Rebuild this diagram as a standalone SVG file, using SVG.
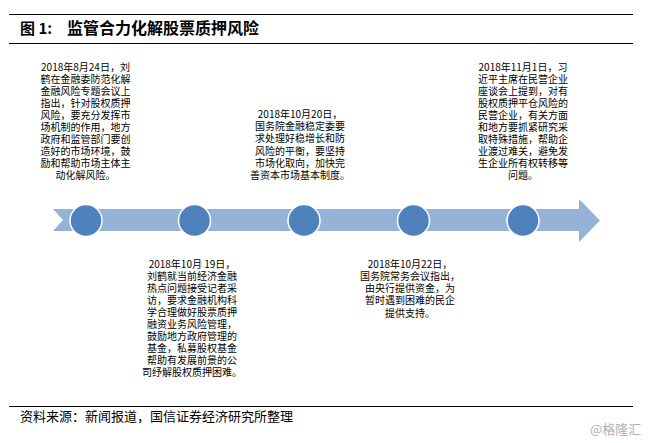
<svg xmlns="http://www.w3.org/2000/svg" width="649" height="443" viewBox="0 0 649 443">
<style>
text{font-family:"Noto Sans CJK SC","Liberation Sans",sans-serif;fill:#000}
.b{font-size:10px;text-anchor:middle}
.rule{stroke:#000;stroke-width:1.2;fill:none}
.dot{fill:#4f81bd;stroke:#fff;stroke-width:1.5}
</style>
<rect width="649" height="443" fill="#fff"/>
<g id="header">
<line class="rule" x1="9" y1="14.5" x2="633" y2="14.5"/>
<line class="rule" x1="9" y1="43.5" x2="633" y2="43.5"/>
<text x="20" y="34" font-size="15" font-weight="700">图 1:</text>
<text x="67" y="34" font-size="16" font-weight="700">监管合力化解股票质押风险</text>
</g>
<g id="timeline-arrow">
<polygon points="53,209 579,209 579,199 600,220.5 579,242 579,231 53,231 63,220" fill="#95b3d7"/>
</g>
<g id="node-1"><circle class="dot" cx="86" cy="220.5" r="16"/>
<text class="b"><tspan x="85.5" y="70.5">2018年8月24日，刘</tspan><tspan x="85.5" y="82.5">鹤在金融委防范化解</tspan><tspan x="85.5" y="94.5">金融风险专题会议上</tspan><tspan x="85.5" y="106.5">指出，针对股权质押</tspan><tspan x="85.5" y="118.5">风险，要充分发挥市</tspan><tspan x="85.5" y="130.5">场机制的作用，地方</tspan><tspan x="85.5" y="142.5">政府和监管部门要创</tspan><tspan x="85.5" y="154.5">造好的市场环境，鼓</tspan><tspan x="85.5" y="166.5">励和帮助市场主体主</tspan><tspan x="85.5" y="178.5">动化解风险。</tspan></text></g>
<g id="node-2"><circle class="dot" cx="194.5" cy="220.5" r="16"/>
<text class="b"><tspan x="192" y="267.5">2018年10月 19日，</tspan><tspan x="192" y="279.5">刘鹤就当前经济金融</tspan><tspan x="192" y="291.5">热点问题接受记者采</tspan><tspan x="192" y="303.5">访，要求金融机构科</tspan><tspan x="192" y="315.5">学合理做好股票质押</tspan><tspan x="192" y="327.5">融资业务风险管理，</tspan><tspan x="192" y="339.5">鼓励地方政府管理的</tspan><tspan x="192" y="351.5">基金，私募股权基金</tspan><tspan x="192" y="363.5">帮助有发展前景的公</tspan><tspan x="192" y="375.5">司纾解股权质押困难。</tspan></text></g>
<g id="node-3"><circle class="dot" cx="304" cy="220.5" r="16"/>
<text class="b"><tspan x="300" y="117.5">2018年10月20日，</tspan><tspan x="300" y="130">国务院金融稳定委要</tspan><tspan x="300" y="142">求处理好稳增长和防</tspan><tspan x="300" y="154.5">风险的平衡，要坚持</tspan><tspan x="300" y="167">市场化取向，加快完</tspan><tspan x="300" y="179">善资本市场基本制度。</tspan></text></g>
<g id="node-4"><circle class="dot" cx="413.5" cy="220.5" r="16"/>
<text class="b"><tspan x="410" y="267.5">2018年10月22日，</tspan><tspan x="410" y="279.5">国务院常务会议指出，</tspan><tspan x="410" y="292">由央行提供资金，为</tspan><tspan x="410" y="304">暂时遇到困难的民企</tspan><tspan x="410" y="316.5">提供支持。</tspan></text></g>
<g id="node-5"><circle class="dot" cx="523" cy="220.5" r="16"/>
<text class="b"><tspan x="523" y="70.5">2018年11月1日，习</tspan><tspan x="523" y="82.5">近平主席在民营企业</tspan><tspan x="523" y="94.5">座谈会上提到，对有</tspan><tspan x="523" y="106.5">股权质押平仓风险的</tspan><tspan x="523" y="118.5">民营企业，有关方面</tspan><tspan x="523" y="130.5">和地方要抓紧研究采</tspan><tspan x="523" y="142.5">取特殊措施，帮助企</tspan><tspan x="523" y="154.5">业渡过难关，避免发</tspan><tspan x="523" y="166.5">生企业所有权转移等</tspan><tspan x="523" y="178.5">问题。</tspan></text></g>
<g id="footer">
<line class="rule" x1="9" y1="406.5" x2="633" y2="406.5"/>
<text x="20" y="421" font-size="13">资料来源：新闻报道，国信证券经济研究所整理</text>
<text x="590" y="434" font-size="13" style="fill:#b0b0b0">@格隆汇</text>
</g>
</svg>
